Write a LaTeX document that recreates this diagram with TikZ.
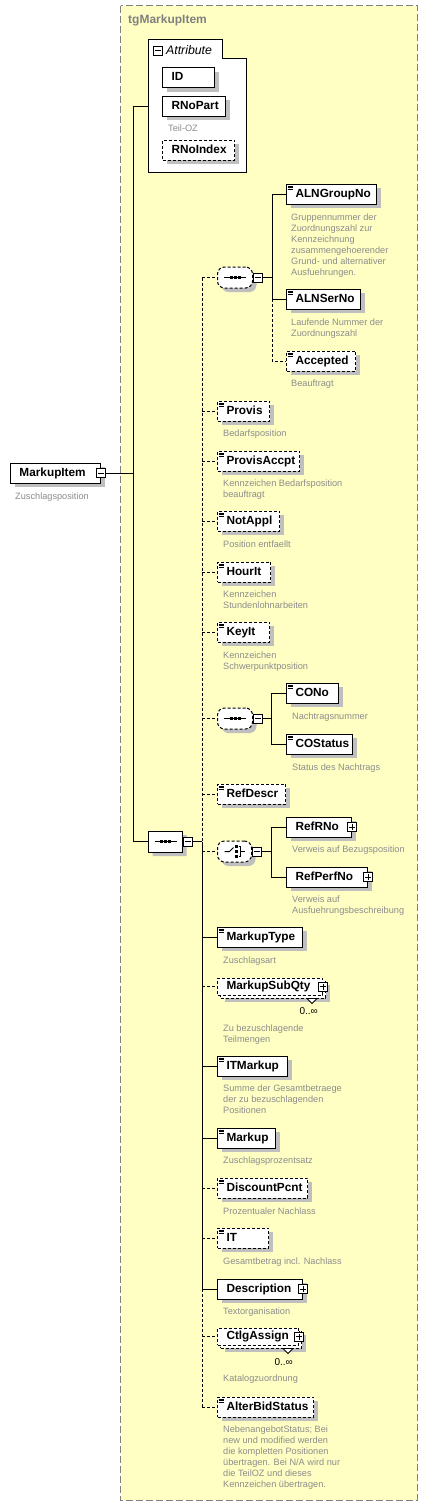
\documentclass[tikz,border=0pt]{standalone}
\usepackage{fontspec}
\setmainfont{Liberation Sans}
\usetikzlibrary{shapes.misc,shadows}

\definecolor{group area}{RGB}{255,255,196}
\colorlet{group edge}{black!50}
\colorlet{shadow gray}{black!25}
\colorlet{note gray}{black!45}
\def\labelfont{\fontsize{11.8}{13}\selectfont\bfseries}
\def\notefont{\fontsize{9.2}{11}\selectfont}
\def\multfont{\fontsize{10}{12}\selectfont}

\tikzset{
  boxshadow/.style={general shadow={fill=shadow gray, draw=none, shadow xshift=4pt, shadow yshift=-4pt}},
  optional/.style={dash pattern=on 3pt off 2pt},
  box/.style={draw=black, fill=white, line width=1pt, anchor=west, inner xsep=9pt, inner ysep=0pt,
    text height=8.5pt, text depth=2.5pt, align=left, font=\labelfont},
  elem/.style={box, minimum height=20pt, text width=#1, boxshadow},
  multi/.style={box, minimum height=17pt, text width=#1, optional,
    general shadow={fill=shadow gray, draw=none, shadow xshift=7pt, shadow yshift=-7pt},
    general shadow={fill=white, draw=black, line width=1pt, dash pattern=on 3pt off 2pt, shadow xshift=3pt, shadow yshift=-3pt}},
  icon/.style={path picture={
    \foreach \dy in {2,3.5,5}
      \draw[solid, line width=0.6pt] ([xshift=1pt,yshift=-\dy pt]path picture bounding box.north west) -- ++(5pt,0);
  }},
  note/.style={anchor=north west, inner sep=0pt, align=left, font=\notefont, text=note gray},
  mult/.style={anchor=east, inner sep=0pt, font=\multfont},
  pm/.style={draw=black, fill=white, line width=1pt, minimum size=9pt, inner sep=0pt, solid},
  minus/.style={pm, path picture={
    \draw[line width=1pt] ([xshift=-3pt]path picture bounding box.center) -- ([xshift=3pt]path picture bounding box.center);
  }},
  plus/.style={pm, path picture={
    \draw[line width=1pt] ([xshift=-3pt]path picture bounding box.center) -- ([xshift=3pt]path picture bounding box.center);
    \draw[line width=1pt] ([yshift=-3pt]path picture bounding box.center) -- ([yshift=3pt]path picture bounding box.center);
  }},
  compositor/.style={draw=black, fill=white, line width=1pt, minimum width=#1, minimum height=21pt,
    inner sep=0pt, anchor=west, boxshadow},
  seqicon/.style={path picture={
    \draw[solid, sharp corners, line width=1pt] ([xshift=-11pt]path picture bounding box.center) -- ([xshift=11pt]path picture bounding box.center);
    \foreach \dx in {-4,0,4}
      \fill[black, sharp corners] ([xshift=\dx pt-1.5pt, yshift=-1.5pt]path picture bounding box.center) rectangle ++(3pt,3pt);
  }},
  choiceicon/.style={path picture={
    \draw[solid, sharp corners, line width=1pt] ([xshift=-10pt]path picture bounding box.center) -- ([xshift=-5pt]path picture bounding box.center)
      -- ([xshift=-1pt,yshift=4pt]path picture bounding box.center);
    \foreach \dy in {-5,0,5}
      \fill[black, sharp corners] ([xshift=0pt, yshift=\dy pt-1.5pt]path picture bounding box.center) rectangle ++(3pt,3pt);
    \draw[solid, sharp corners, line width=1pt] ([xshift=4pt,yshift=5pt]path picture bounding box.center) -- ([xshift=6pt,yshift=5pt]path picture bounding box.center)
      -- ([xshift=6pt,yshift=-5pt]path picture bounding box.center) -- ([xshift=4pt,yshift=-5pt]path picture bounding box.center);
    \draw[solid, sharp corners, line width=1pt] ([xshift=6pt]path picture bounding box.center) -- ([xshift=10pt]path picture bounding box.center);
  }},
  optseq/.style={compositor=35pt, rounded corners=7pt, optional, seqicon},
  mainseq/.style={compositor=34pt, chamfered rectangle, chamfered rectangle xsep=5pt, chamfered rectangle ysep=5pt, seqicon},
  optchoice/.style={compositor=34pt, rounded corners=7pt, optional, choiceicon}
  }
\tikzstyle{edge} = [draw, line width=1pt]
\tikzstyle{optedge} = [draw, line width=1pt, dash pattern=on 3pt off 2pt]

\begin{document}
\begin{tikzpicture}[x=1pt,y=-1pt]
   \path[fill=white] (0,0) rectangle (428,1508);
   \useasboundingbox (0,0) rectangle (428,1508);

   % group
   \draw[fill=group area, draw=group edge, line width=1pt, dash pattern=on 7pt off 3pt] (120.5,5.5) rectangle (417,1500);
   \node[anchor=west, inner sep=0pt, font=\fontsize{12}{14}\selectfont\bfseries, text=group edge] (title) at (128,20) {tgMarkupItem};

   % attributes
   \draw[fill=white, line width=1pt] (148,172) -- (148,39) -- (222,39) -- (222,58) -- (246,58) -- (246,172) -- cycle;
   \coordinate (attr) at (148,106);
   \node[minus] (attr-pm) at (158,50.5) {};
   \node[anchor=west, inner sep=0pt, font=\fontsize{12.3}{14}\selectfont\itshape] (attr-title) at (166,50) {Attribute};
   \node[elem=34pt] (id) at (162,77.5) {ID};
   \node[elem=45pt] (rnopart) at (162,106) {RNoPart};
   \node[note] at ([xshift=6pt,yshift=-8pt]rnopart.south west) {Teil-OZ};
   \node[elem=54pt, optional] (rnoindex) at (162,150) {RNoIndex};

   % root element
   \node[elem=72pt] (markupitem) at (10,473) {MarkupItem};
   \node[minus] (markupitem-pm) at (markupitem.east) {};
   \node[note] at ([xshift=5pt,yshift=-9pt]markupitem.south west) {Zuschlagsposition};

   % compositors
   \node[mainseq] (seqmain) at (148,841.5) {};
   \node[minus] (seqmain-pm) at ([xshift=5pt]seqmain.east) {};
   \node[optseq] (seqa) at (217,277.5) {};
   \node[minus] (seqa-pm) at ([xshift=5pt]seqa.east) {};
   \node[optseq] (seqb) at (217,718.5) {};
   \node[minus] (seqb-pm) at ([xshift=5pt]seqb.east) {};
   \node[optchoice] (choice) at (217,851.5) {};
   \node[minus] (choice-pm) at ([xshift=5pt]choice.east) {};

   % first sequence
   \node[elem=72pt, icon] (alngroup) at (286,194) {ALNGroupNo};
   \node[note] at ([xshift=5pt,yshift=-9pt]alngroup.south west) {Gruppennummer der\\Zuordnungszahl zur\\Kennzeichnung\\zusammengehoerender\\Grund- und alternativer\\Ausfuehrungen.};
   \node[elem=56pt, icon] (alnser) at (286,299) {ALNSerNo};
   \node[note] at ([xshift=5pt,yshift=-9pt]alnser.south west) {Laufende Nummer der\\Zuordnungszahl};
   \node[elem=51pt, icon, optional] (accepted) at (286,361) {Accepted};
   \node[note] at ([xshift=5pt,yshift=-8pt]accepted.south west) {Beauftragt};

   \node[elem=34pt, icon, optional] (provis) at (217,411) {Provis};
   \node[note] at ([xshift=6pt,yshift=-8pt]provis.south west) {Bedarfsposition};
   \node[elem=64pt, icon, optional] (provisaccpt) at (217,461) {ProvisAccpt};
   \node[note] at ([xshift=6pt,yshift=-8pt]provisaccpt.south west) {Kennzeichen Bedarfsposition\\beauftragt};
   \node[elem=44pt, icon, optional] (notappl) at (217,521) {NotAppl};
   \node[note] at ([xshift=6pt,yshift=-9pt]notappl.south west) {Position entfaellt};
   \node[elem=35pt, icon, optional] (hourit) at (217,572) {HourIt};
   \node[note] at ([xshift=6pt,yshift=-8pt]hourit.south west) {Kennzeichen\\Stundenlohnarbeiten};
   \node[elem=34pt, icon, optional] (keyit) at (217,632) {KeyIt};
   \node[note] at ([xshift=6pt,yshift=-9pt]keyit.south west) {Kennzeichen\\Schwerpunktposition};

   % second sequence
   \node[elem=34pt, icon] (cono) at (286,693) {CONo};
   \node[note] at ([xshift=6pt,yshift=-9pt]cono.south west) {Nachtragsnummer};
   \node[elem=48pt, icon] (costatus) at (286,744) {COStatus};
   \node[note] at ([xshift=6pt,yshift=-9pt]costatus.south west) {Status des Nachtrags};

   \node[elem=50pt, icon, optional] (refdescr) at (217,794) {RefDescr};

   % choice
   \node[elem=47pt] (refrno) at (286,827) {RefRNo};
   \node[plus] (refrno-pm) at (refrno.east) {};
   \node[note] at ([xshift=6pt,yshift=-8pt]refrno.south west) {Verweis auf Bezugsposition};
   \node[elem=63pt] (refperfno) at (286,877) {RefPerfNo};
   \node[plus] (refperfno-pm) at (refperfno.east) {};
   \node[note] at ([xshift=6pt,yshift=-8pt]refperfno.south west) {Verweis auf\\Ausfuehrungsbeschreibung};

   \node[elem=67pt, icon] (markuptype) at (217,937) {MarkupType};
   \node[note] at ([xshift=6pt,yshift=-9pt]markuptype.south west) {Zuschlagsart};
   \node[multi=87pt] (markupsubqty) at (217,986.5) {MarkupSubQty};
   \node[plus] (markupsubqty-pm) at (markupsubqty.east) {};
   \draw[fill=white, line width=0.8pt] ([xshift=-16pt,yshift=-3pt]markupsubqty.south east) -- ++(10pt,0) -- ++(-5pt,-5pt) -- cycle;
   \node[mult] at ([xshift=-5pt,yshift=-16pt]markupsubqty.south east) {0..∞};
   \node[note] at ([xshift=6pt,yshift=-29pt]markupsubqty.south west) {Zu bezuschlagende\\Teilmengen};
   \node[elem=52pt, icon] (itmarkup) at (217,1066) {ITMarkup};
   \node[note] at ([xshift=6pt,yshift=-8pt]itmarkup.south west) {Summe der Gesamtbetraege\\der zu bezuschlagenden\\Positionen};
   \node[elem=40pt, icon] (markup) at (217,1138) {Markup};
   \node[note] at ([xshift=6pt,yshift=-8pt]markup.south west) {Zuschlagsprozentsatz};
   \node[elem=72pt, icon, optional] (discountpcnt) at (217,1188) {DiscountPcnt};
   \node[note] at ([xshift=6pt,yshift=-9pt]discountpcnt.south west) {Prozentualer Nachlass};
   \node[elem=33pt, icon, optional] (it) at (217,1238) {IT};
   \node[note] at ([xshift=6pt,yshift=-9pt]it.south west) {Gesamtbetrag incl. Nachlass};
   \node[elem=67pt] (description) at (217,1289) {Description};
   \node[plus] (description-pm) at (description.east) {};
   \node[note] at ([xshift=6pt,yshift=-8pt]description.south west) {Textorganisation};
   \node[multi=63pt] (ctlgassign) at (217,1336.5) {CtlgAssign};
   \node[plus] (ctlgassign-pm) at (ctlgassign.east) {};
   \draw[fill=white, line width=0.8pt] ([xshift=-16pt,yshift=-3pt]ctlgassign.south east) -- ++(10pt,0) -- ++(-5pt,-5pt) -- cycle;
   \node[mult] at ([xshift=-6pt,yshift=-17pt]ctlgassign.south east) {0..∞};
   \node[note] at ([xshift=6pt,yshift=-29pt]ctlgassign.south west) {Katalogzuordnung};
   \node[elem=78pt, icon, optional] (alterbid) at (217,1407) {AlterBidStatus};
   \node[note] at ([xshift=6pt,yshift=-8pt]alterbid.south west) {NebenangebotStatus; Bei\\new und modified werden\\die kompletten Positionen\\übertragen. Bei N/A wird nur\\die TeilOZ und dieses\\Kennzeichen übertragen.};

   % connectors
   \coordinate (trunk) at (133,0);
   \coordinate (busm) at (202,0);
   \coordinate (busa) at (272,0);
   \coordinate (busb) at (271,0);
   \path[edge] (markupitem-pm.east) -- (trunk |- markupitem-pm.east);
   \path[edge] (attr) -| (trunk |- seqmain.west) -- (seqmain.west);

   \path[edge] (seqmain-pm.east) -- (busm |- seqmain-pm.east);
   \path[optedge] (busm |- seqa.west) -- (busm |- seqmain-pm.east);
   \path[edge] (busm |- seqmain-pm.east) -- (busm |- description.west);
   \path[optedge] (busm |- description.west) -- (busm |- alterbid.west);
   \foreach \n in {seqa, provis, provisaccpt, notappl, hourit, keyit, seqb, refdescr, choice, markupsubqty, discountpcnt, it, ctlgassign, alterbid}
     \path[optedge] (busm |- \n.west) -- (\n.west);
   \foreach \n in {markuptype, itmarkup, markup, description}
     \path[edge] (busm |- \n.west) -- (\n.west);

   \path[edge] (seqa-pm.east) -- (busa |- seqa-pm.east);
   \path[edge] (busa |- alngroup.west) -- (busa |- alnser.west);
   \path[optedge] (busa |- alnser.west) -- (busa |- accepted.west) -- (accepted.west);
   \path[edge] (busa |- alngroup.west) -- (alngroup.west);
   \path[edge] (busa |- alnser.west) -- (alnser.west);

   \path[edge] (seqb-pm.east) -- (busb |- seqb-pm.east);
   \path[edge] (cono.west) -| (busb |- costatus.west) -- (costatus.west);

   \path[edge] (choice-pm.east) -- (busb |- choice-pm.east);
   \path[edge] (refrno.west) -| (busb |- refperfno.west) -- (refperfno.west);
\end{tikzpicture}
\end{document}
